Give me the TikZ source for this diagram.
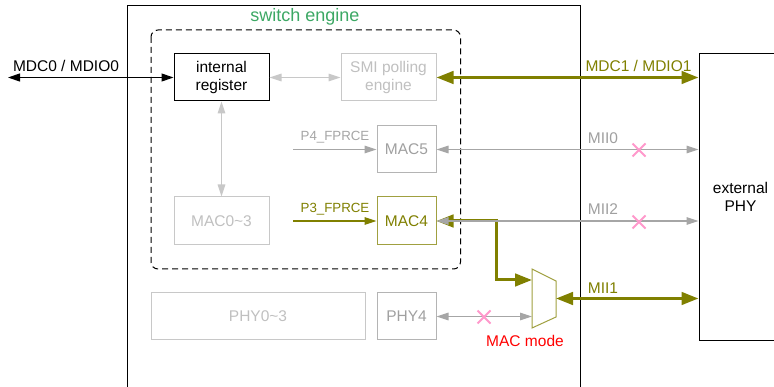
\documentclass[tikz,border=0pt]{standalone}
\usepackage{fontspec}
\setmainfont{Liberation Sans}
\usetikzlibrary{arrows.meta,shapes.misc}
\definecolor{olv}{HTML}{808000}
\definecolor{olvbox}{HTML}{A0A040}
\definecolor{lgray}{HTML}{C8C8C8}
\definecolor{lgtext}{HTML}{C0C0C0}
\definecolor{mgray}{HTML}{B4B4B4}
\definecolor{mgtext}{HTML}{A0A0A0}
\definecolor{argray}{HTML}{A6A6A6}
\definecolor{pinkx}{HTML}{FF99CC}
\definecolor{swgreen}{HTML}{3CA864}
\begin{document}
\begin{tikzpicture}[x=1pt,y=-1pt,
  font=\fontsize{15.5}{18}\selectfont,
  blk/.style={draw=black, line width=1pt, align=center, inner sep=0pt},
  faint/.style={draw=lgray, line width=1pt, text=lgtext, align=center, inner sep=0pt},
  mid/.style={draw=mgray, line width=1pt, text=mgtext, align=center, inner sep=0pt},
  olbox/.style={draw=olvbox, line width=1pt, text=olv, align=center, inner sep=0pt},
  garrow/.style={draw=argray, line width=1.2pt, {Triangle[length=12pt,width=7.5pt]}-{Triangle[length=12pt,width=7.5pt]}},
  garrowone/.style={draw=argray, line width=1.2pt, -{Triangle[length=12pt,width=7.5pt]}},
  oarrow/.style={draw=olv, line width=3pt, {Triangle[length=17pt,width=12.5pt]}-{Triangle[length=17pt,width=12.5pt]}},
  oarrowone/.style={draw=olv, line width=1.2pt, -{Triangle[length=12pt,width=7.5pt]}},
  karrow/.style={draw=black, line width=1.2pt, {Triangle[length=12pt,width=8pt]}-{Triangle[length=12pt,width=8pt]}},
  crossmark/.style={cross out, draw=pinkx, line width=2pt, minimum size=11pt, inner sep=0pt},
  smalltext/.style={font=\fontsize{13.3}{15}\selectfont, inner sep=0pt}
]
\useasboundingbox (0,0) rectangle (774,387);
\clip (0,0) rectangle (774,387);
\fill[white] (0,0) rectangle (774,387);

% outer switch box
\draw[line width=1pt] (127,410) -- (127,6) -- (580,6) -- (580,410);
\node[text=swgreen, font=\fontsize{18}{20}\selectfont, inner sep=0pt] (swlabel) at (305,17) {switch engine};

% dashed engine box
\draw[dashed, dash pattern=on 6pt off 4pt, line width=1pt, rounded corners=7pt] (151,30) rectangle (460.5,269);

% blocks
\node[blk, minimum width=95pt, minimum height=47pt] (reg) at (221.5,77.5) {internal\\register};
\node[faint, minimum width=95pt, minimum height=47pt] (smi) at (388.5,77.5) {SMI polling\\engine};
\node[mid, minimum width=59pt, minimum height=47pt] (mac5) at (406.5,149.5) {MAC5};
\node[faint, minimum width=95pt, minimum height=48pt] (mac03) at (221.5,221) {MAC0\textasciitilde 3};
\node[olbox, minimum width=59pt, minimum height=48pt] (mac4) at (406.5,221) {MAC4};
\node[faint, minimum width=214pt, minimum height=47pt] (phy03) at (258,316.5) {PHY0\textasciitilde 3};
\node[mid, minimum width=59pt, minimum height=47pt] (phy4) at (406.5,316.5) {PHY4};
\node[blk, minimum width=83pt, minimum height=286.5pt] (ext) at (740.5,197.25) {external\\PHY};

% mux
\coordinate (muxin1) at (532,280);
\coordinate (muxin2) at (532,316.5);
\coordinate (muxout) at (556,298.5);
\coordinate (bend) at (496,280);
\draw[draw=olvbox, fill=white, line width=1pt] (532,269) -- (556,281) -- (556,317) -- (532,328) -- cycle;

% connectors
\coordinate (mdc0) at (8,77.5);
\draw[karrow] (mdc0) -- (reg.west);
\node[inner sep=0pt] (mdc0lab) at (66,66) {MDC0 / MDIO0};

\draw[garrow, draw=lgray] (reg.east) -- (smi.west);
\draw[garrow, draw=lgray] (reg.south) -- (mac03.north);

\draw[oarrow] (smi.east) -- (ext.west |- smi.east);
\node[text=olv, inner sep=0pt] (mdc1lab) at (638.5,66) {MDC1 / MDIO1};

\coordinate (p4) at (293,149.5);
\draw[garrowone] (p4) -- (mac5.west);
\node[smalltext, text=argray] (p4lab) at (335,137) {P4\_FPRCE};

\coordinate (p3) at (293,221);
\draw[oarrowone] (p3) -- (mac4.west);
\node[smalltext, text=olv] (p3lab) at (335,209) {P3\_FPRCE};

\draw[garrow] (mac5.east) -- (ext.west |- mac5.east);
\node[text=mgtext, inner sep=0pt] (mii0lab) at (603,138) {MII0};
\node[crossmark] (x0) at (639,150) {};

\draw[oarrow] (mac4.east) -| (bend) -- (muxin1);
\draw[garrow] (mac4.east) -- (ext.west |- mac4.east);
\node[text=mgtext, inner sep=0pt] (mii2lab) at (603,209) {MII2};
\node[crossmark] (x2) at (639,222) {};

\draw[garrow] (phy4.east) -- (muxin2);
\node[crossmark] (x4) at (484,317) {};

\draw[oarrow] (muxout) -- (ext.west |- muxout);
\node[text=olv, inner sep=0pt] (mii1lab) at (603,288) {MII1};

\node[text=red, inner sep=0pt] (macmode) at (525,341) {MAC mode};
\end{tikzpicture}
\end{document}
